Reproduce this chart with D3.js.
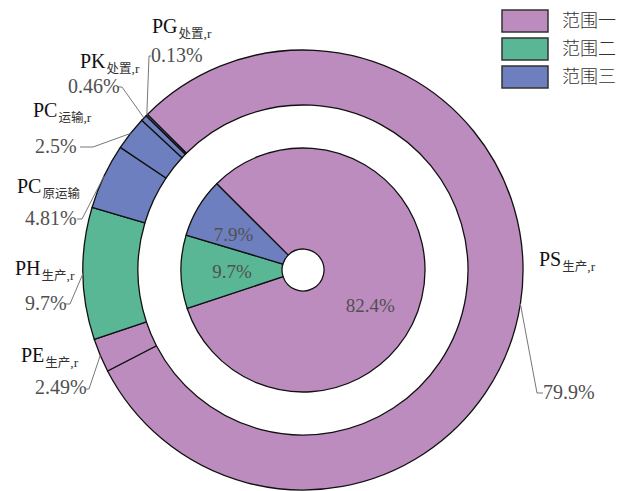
<!DOCTYPE html>
<html>
<head>
<meta charset="utf-8">
<script src="https://cdn.jsdelivr.net/npm/d3@7/dist/d3.min.js"></script>
<style>
  html, body { margin: 0; padding: 0; background: #fff; }
  svg { display: block; }
</style>
</head>
<body>
<svg id="chart" width="629" height="491"></svg>
<script>
// Scopes (inner pie) and their shares
const scopeNames = ["范围一", "范围二", "范围三"];
const innerValues = [82.4, 9.7, 7.9];

// Outer ring: emission sources, their scope and share
const outerNames = ["PS", "PE", "PH", "PC", "PC", "PK", "PG"];
const outerSubs = ["生产,r", "生产,r", "生产,r", "原运输", "运输,r", "处置,r", "处置,r"];
const outerValues = [79.9, 2.49, 9.7, 4.81, 2.5, 0.46, 0.13];
const outerScope = [0, 0, 1, 2, 2, 2, 2];

// Styling
const scopeColors = ["#BD8CBF", "#59B796", "#6E7FBF"];
const cx = 303, cy = 270;
const R_OUT = 220, R_RING_IN = 165, R_PIE = 122, R_HOLE = 21;

// Text placement for the outer labels: name position, value position, leader elbow and end
const outerLabelLayout = [
  { name: [539, 266], value: [543, 399], elbow: [537, 393], end: [543, 393] },
  { name: [21, 362],  value: [35, 394],  elbow: [89, 389],  end: [86, 389] },
  { name: [15, 275],  value: [25, 310],  elbow: [70, 304],  end: [65, 304] },
  { name: [17, 193],  value: [25, 225],  elbow: [82, 219],  end: [77, 219] },
  { name: [33, 117],  value: [35, 153],  elbow: [93, 147],  end: [80, 147] },
  { name: [80, 68],   value: [68, 93],   elbow: [122, 87],  end: [118, 87] },
  { name: [152, 33],  value: [151, 62],  elbow: [149, 56],  end: [151, 56] }
];
// Polar placement (degrees clockwise from 12 o'clock, radius) of the inner percentages
const innerLabelPolar = [[117.7, 76], [268.8, 71], [297, 78]];

const svg = d3.select("#chart");
const g = svg.append("g").attr("transform", `translate(${cx},${cy})`);

const start = -Math.PI / 4;
const pie = d3.pie().sort(null).value(d => d).startAngle(start).endAngle(start + 2 * Math.PI);

const outerArc = d3.arc().innerRadius(R_RING_IN).outerRadius(R_OUT);
const innerArc = d3.arc().innerRadius(R_HOLE).outerRadius(R_PIE);

const outerPie = pie(outerValues);
const innerPie = pie(innerValues);

// Outer ring
g.selectAll("path.outer").data(outerPie).enter().append("path")
  .attr("class", "outer")
  .attr("d", outerArc)
  .attr("fill", (d, i) => scopeColors[outerScope[i]])
  .attr("stroke", "#111")
  .attr("stroke-width", 1.3)
  .attr("stroke-linejoin", "round");

// Inner pie
g.selectAll("path.inner").data(innerPie).enter().append("path")
  .attr("class", "inner")
  .attr("d", innerArc)
  .attr("fill", (d, i) => scopeColors[i])
  .attr("stroke", "#111")
  .attr("stroke-width", 1.3)
  .attr("stroke-linejoin", "round");

// Inner percentages
g.selectAll("text.inner").data(innerPie).enter().append("text")
  .attr("class", "inner")
  .attr("x", (d, i) => innerLabelPolar[i][1] * Math.sin(innerLabelPolar[i][0] * Math.PI / 180))
  .attr("y", (d, i) => -innerLabelPolar[i][1] * Math.cos(innerLabelPolar[i][0] * Math.PI / 180))
  .attr("dy", "0.35em")
  .attr("text-anchor", "middle")
  .attr("font-family", "'Liberation Serif', 'Times New Roman', serif")
  .attr("font-size", 19)
  .attr("fill", "#505050")
  .text(d => d.data + "%");

// Outer labels with leader lines
const labels = svg.append("g");
outerPie.forEach((d, i) => {
  const L = outerLabelLayout[i];
  const mid = (d.startAngle + d.endAngle) / 2;
  const ax = cx + R_OUT * Math.sin(mid);
  const ay = cy - R_OUT * Math.cos(mid);
  labels.append("path")
    .attr("d", d3.line()([[ax, ay], L.elbow, L.end]))
    .attr("fill", "none")
    .attr("stroke", "#777")
    .attr("stroke-width", 1);

  const t = labels.append("text")
    .attr("x", L.name[0]).attr("y", L.name[1])
    .attr("font-family", "'Liberation Serif', 'Times New Roman', serif")
    .attr("font-size", 20)
    .attr("fill", "#111");
  t.append("tspan").text(outerNames[i]);
  const sub = outerSubs[i];
  const cjk = sub.replace(/,r$/, "");
  const tail = sub.endsWith(",r") ? ",r" : "";
  t.append("tspan")
    .attr("dy", 4.5).attr("dx", 1)
    .attr("font-family", "'Noto Sans CJK SC', sans-serif")
    .attr("font-size", 12.5)
    .attr("fill", "#333")
    .text(cjk);
  if (tail) {
    t.append("tspan")
      .attr("font-size", 13.5)
      .attr("fill", "#333")
      .text(tail);
  }

  labels.append("text")
    .attr("x", L.value[0]).attr("y", L.value[1])
    .attr("font-family", "'Liberation Serif', 'Times New Roman', serif")
    .attr("font-size", 20)
    .attr("fill", "#505050")
    .text(outerValues[i] + "%");
});

// Legend
const legend = svg.append("g").attr("transform", "translate(502,10)");
const item = legend.selectAll("g").data(scopeNames).enter().append("g")
  .attr("transform", (d, i) => `translate(0,${i * 28})`);
item.append("rect")
  .attr("width", 46).attr("height", 22)
  .attr("fill", (d, i) => scopeColors[i])
  .attr("stroke", "#333").attr("stroke-width", 1.5);
item.append("text")
  .attr("x", 60).attr("y", 11).attr("dy", "0.36em")
  .attr("font-family", "'Noto Sans CJK SC', sans-serif")
  .attr("font-size", 18)
  .attr("font-weight", 300)
  .attr("fill", "#333")
  .text(d => d);
</script>
</body>
</html>
